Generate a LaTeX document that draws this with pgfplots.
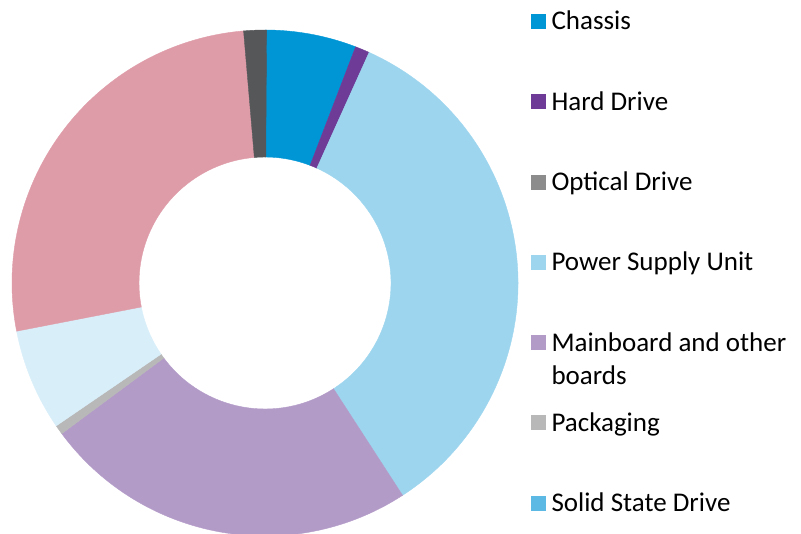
\documentclass[border=0pt]{standalone}
\usepackage{fontspec}
\setmainfont{Carlito}
\usepackage{pgfplots}
\pgfplotsset{compat=1.18}
\usepackage{pgfplotstable}

\definecolor{cChassis}{HTML}{0096D6}
\definecolor{cHard}{HTML}{6E3B97}
\definecolor{cOptical}{HTML}{8C8C8C}
\definecolor{cPSU}{HTML}{9DD5EE}
\definecolor{cMain}{HTML}{B39BC8}
\definecolor{cPack}{HTML}{B8B8B8}
\definecolor{cSSD}{HTML}{5BB9E4}
\definecolor{cPale}{HTML}{D8EEF9}
\definecolor{cPink}{HTML}{DE9BA8}
\definecolor{cDark}{HTML}{555759}

% share of each component (percent), clockwise from 12 o'clock
\pgfplotstableread{
value color
5.83 cChassis
0.92 cHard
0 cOptical
34.1 cPSU
24.0 cMain
0.6 cPack
0 cSSD
6.5 cPale
26.7 cPink
1.45 cDark
}\piedata

\def\cx{265}\def\cy{251}\def\Ro{253}\def\Ri{126}
\pgfmathsetmacro\Rd{\Ro-\Ri}
\def\slices{}
\def\cum{0}
\pgfplotstablegetrowsof{\piedata}
\pgfmathtruncatemacro\lastrow{\pgfplotsretval-1}
\pgfplotsforeachungrouped \ii in {0,...,\lastrow}{%
  \pgfplotstablegetelem{\ii}{value}\of\piedata \let\sv\pgfplotsretval
  \pgfplotstablegetelem{\ii}{color}\of\piedata \let\sc\pgfplotsretval
  \pgfmathsetmacro\aS{90-3.6*\cum}%
  \pgfmathsetmacro\cumn{\cum+\sv}%
  \pgfmathsetmacro\aE{90-3.6*\cumn}%
  \let\cum\cumn
  \ifdim\sv pt>0pt
    \edef\slices{\unexpanded\expandafter{\slices}%
      \noexpand\fill[\sc, draw=\sc, line width=0.4bp] (axis cs:\cx,\cy) ++(\aS:\Ro bp)
      arc[start angle=\aS, end angle=\aE, radius=\Ro bp]
      -- ++(\aE:-\Rd bp)
      arc[start angle=\aE, end angle=\aS, radius=\Ri bp] -- cycle;}%
  \fi
}

\begin{document}
\begin{tikzpicture}
\useasboundingbox (0,0) rectangle (801bp,534bp);
\begin{axis}[
  at={(0,0)}, anchor=south west,
  scale only axis, width=801bp, height=534bp,
  xmin=0, xmax=801, ymin=0, ymax=534,
  hide axis,
  legend image code/.code={\fill[#1] (0bp,-7.5bp) rectangle (15bp,7.5bp);},
  legend cell align=left,
  legend style={at={(axis cs:531,523)}, anchor=north west,
    draw=none, fill=none, inner sep=0pt, outer sep=0pt,
    row sep=59.3bp, column sep=5.5bp,
    font=\fontsize{27bp}{33.3bp}\selectfont,
    nodes={inner sep=0pt, text height=19bp, text depth=2bp}},
]
\slices
\addlegendimage{fill=cChassis,draw=none}\addlegendentry{Chassis}
\addlegendimage{fill=cHard,draw=none}\addlegendentry{Hard Drive}
\addlegendimage{fill=cOptical,draw=none}\addlegendentry{Optical Drive}
\addlegendimage{fill=cPSU,draw=none}\addlegendentry{Power Supply Unit}
\addlegendimage{fill=cMain,draw=none}\addlegendentry{\parbox[t]{260bp}{Mainboard and other\\boards}}
\addlegendimage{fill=cPack,draw=none}\addlegendentry{Packaging}
\addlegendimage{fill=cSSD,draw=none}\addlegendentry{Solid State Drive}
\end{axis}
\end{tikzpicture}
\end{document}
